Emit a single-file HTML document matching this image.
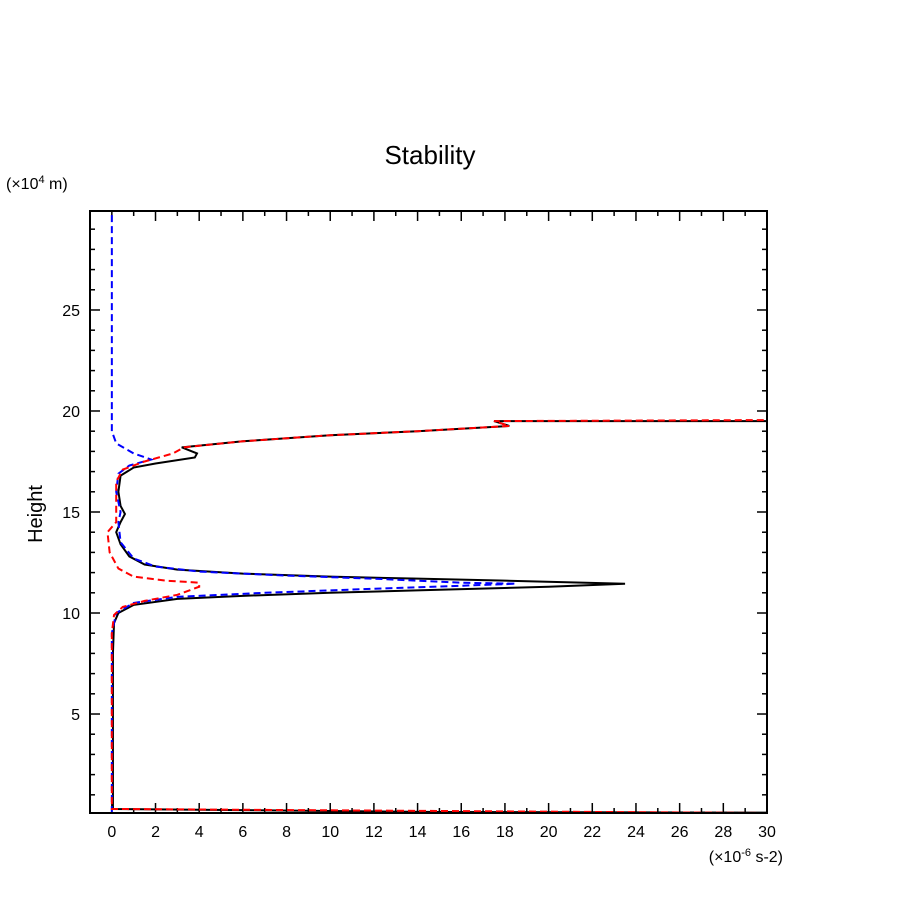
<!DOCTYPE html>
<html><head><meta charset="utf-8"><style>
body{margin:0;background:#fff}
svg text{font-family:"Liberation Sans",sans-serif;fill:#000}
</style></head><body>
<svg id="c" width="904" height="904">
<rect width="904" height="904" fill="#fff"/>
<text x="430" y="164" font-size="26" text-anchor="middle">Stability</text>
<text x="6" y="189" font-size="16">(×10<tspan dy="-6" font-size="11">4</tspan><tspan dy="6"> m)</tspan></text>
<text x="42" y="514" font-size="20" text-anchor="middle" transform="rotate(-90 42 514)">Height</text>
<text x="783" y="862" font-size="16" text-anchor="end">(×10<tspan dy="-6" font-size="11">-6</tspan><tspan dy="6"> s-2)</tspan></text>
<g id="ticks"></g>
<g id="series"></g>
<rect x="90" y="211" width="677" height="602" fill="none" stroke="#000" stroke-width="2"/>
</svg>
<script>
const xTicks=[0,2,4,6,8,10,12,14,16,18,20,22,24,26,28,30];
const yTicks=[5,10,15,20,25];
const blackX=[30,15,0.05,0.05,0.1,0.3,1,3,6,10,15,20,23.5,18,14,10,6,3,1.5,0.8,0.4,0.2,0.4,0.6,0.4,0.3,0.4,1,2,3.8,3.9,3.2,6,10,14,18.2,17.5,30];
const blackH=[0.12,0.15,0.3,8,9.5,10,10.4,10.7,10.85,11,11.15,11.3,11.45,11.6,11.7,11.8,11.95,12.15,12.4,12.8,13.4,14,14.5,14.9,15.3,16,16.8,17.2,17.4,17.7,17.9,18.2,18.5,18.8,19.0,19.26,19.5,19.5];
const redX=[30,15,0,0,0.1,0.5,1.5,3,4,4,2.5,1,0.3,-0.1,-0.2,0.2,0.2,0.2,0.5,1.5,2.8,3.3,6,10,14,18.2,17.5,30];
const redH=[0.1,0.2,0.3,9,9.9,10.3,10.6,10.9,11.3,11.5,11.6,11.8,12.2,13,14,14.5,15.5,16.5,17.1,17.5,17.9,18.2,18.5,18.8,19.0,19.26,19.5,19.55];
const blueX=[0,0,0.2,1,3,7,12,16,18.5,16,12,8,4,2,1,0.4,0.3,0.4,0.2,0.3,0.8,1.8,1,0.2,0,0];
const blueH=[0.1,9,10,10.5,10.8,11,11.2,11.35,11.45,11.5,11.7,11.85,12.05,12.3,12.7,13.5,14.5,15,16,16.9,17.3,17.6,17.9,18.4,19,29.9];
const X0=90,X1=767,Y0=813,Y1=211,xmin=-1,xmax=30,ymin=0.1,ymax=29.9;
const sx=v=>X0+(v-xmin)/(xmax-xmin)*(X1-X0);
const sy=v=>Y0-(v-ymin)/(ymax-ymin)*(Y0-Y1);
const NS="http://www.w3.org/2000/svg";
const tg=document.getElementById('ticks'),sg=document.getElementById('series');
function ln(x1,y1,x2,y2){const l=document.createElementNS(NS,'line');l.setAttribute('x1',x1);l.setAttribute('y1',y1);l.setAttribute('x2',x2);l.setAttribute('y2',y2);l.setAttribute('stroke','#000');l.setAttribute('stroke-width',1.5);tg.appendChild(l);return l;}
for(let v=-1;v<=30;v++){const x=sx(v);const L=(v%2===0)?10:5;
const a=ln(x,Y0,x,Y0-L);
const b=ln(x,Y1,x,Y1+L);}
xTicks.forEach(v=>{const t=document.createElementNS(NS,'text');t.setAttribute('x',sx(v));t.setAttribute('y',837);t.setAttribute('font-size',16);t.setAttribute('text-anchor','middle');t.textContent=v;


tg.appendChild(t);});
for(let v=1;v<=29;v++){const y=sy(v);const L=(v%5===0)?10:5;
const a=ln(X0,y,X0+L,y);
const b=ln(X1,y,X1-L,y);}
yTicks.forEach(v=>{const t=document.createElementNS(NS,'text');t.setAttribute('x',80);t.setAttribute('y',sy(v)+6);t.setAttribute('font-size',16);t.setAttribute('text-anchor','end');t.textContent=v;


tg.appendChild(t);});
function series(xs,hs,color,dash,name){const p=document.createElementNS(NS,'polyline');
p.setAttribute('points',xs.map((v,i)=>sx(v)+','+sy(hs[i])).join(' '));
p.setAttribute('fill','none');p.setAttribute('stroke',color);p.setAttribute('stroke-width',2);
if(dash)p.setAttribute('stroke-dasharray','7,4');


sg.appendChild(p);}
series(blackX,blackH,'#000',false,'series-black');
series(blueX,blueH,'#00f',true,'series-blue');
series(redX,redH,'#f00',true,'series-red');
</script>
</body></html>
